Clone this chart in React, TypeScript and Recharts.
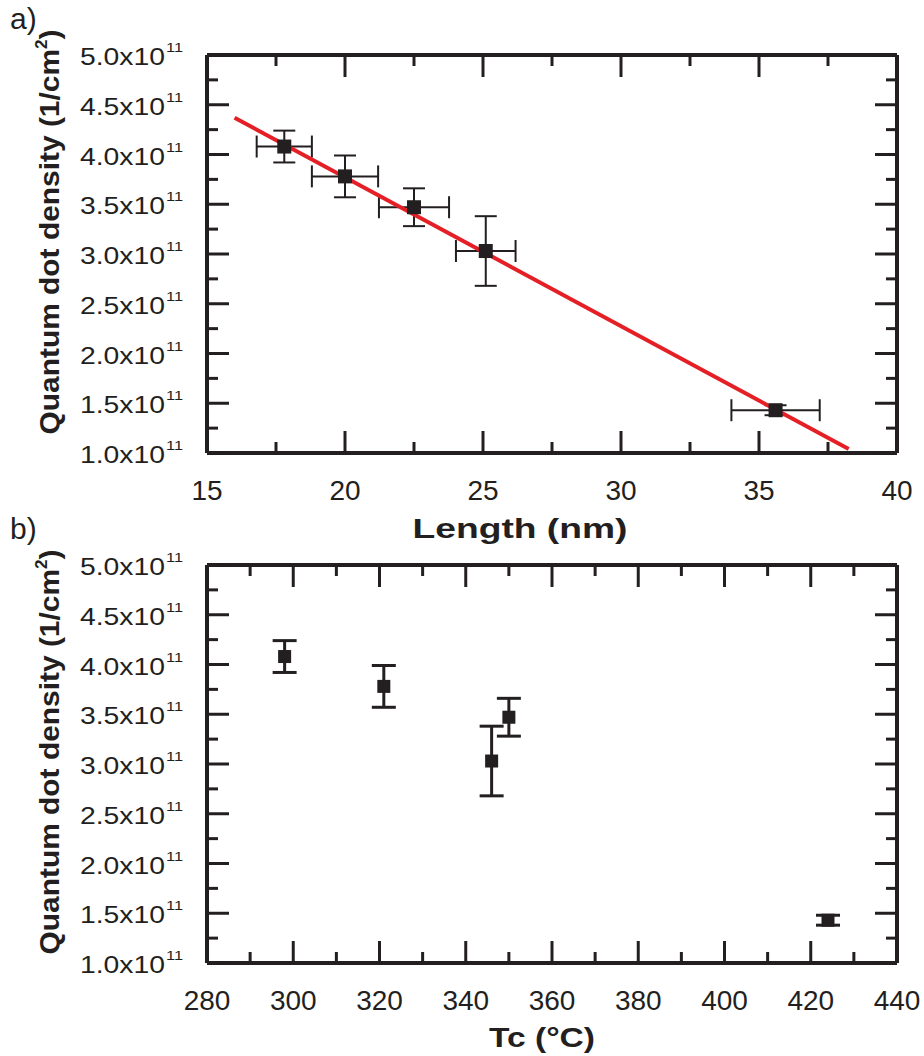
import React from 'react'
import {
  ScatterChart,
  Scatter,
  XAxis,
  YAxis,
  ErrorBar,
  ReferenceLine,
} from 'recharts'

// measured values (density in units of 1e11 cm^-2)
const lengthNm = [17.8, 20.0, 22.5, 25.1, 35.6]
const lengthErr = [1.0, 1.2, 1.27, 1.08, 1.6]
const density = [4.08, 3.78, 3.47, 3.03, 1.43]
const densityErr = [0.16, 0.21, 0.19, 0.35, 0.05]
const tcCelsius = [298, 321, 350, 346, 424]

// linear fit endpoints (panel a)
const fitLength = [16.0, 38.25]
const fitDensity = [4.37, 1.04]

const lengthTicks = [15, 17.5, 20, 22.5, 25, 27.5, 30, 32.5, 35, 37.5, 40]
const tcTicks = [280, 290, 300, 310, 320, 330, 340, 350, 360, 370, 380, 390, 400, 410, 420, 430, 440]
const densityTicks = [1, 1.25, 1.5, 1.75, 2, 2.25, 2.5, 2.75, 3, 3.25, 3.5, 3.75, 4, 4.25, 4.5, 4.75, 5]

const INK = '#231f20'
const RED = '#e41f26'
const FONT = '"Liberation Sans", Arial, Helvetica, sans-serif'
const PLOT_W = 690
const PLOT_H = 398

const lengthData = lengthNm.map((x, i) => ({ x, y: density[i], ex: lengthErr[i], ey: densityErr[i] }))
const fitData = fitLength.map((x, i) => ({ x, y: fitDensity[i] }))
const tcData = tcCelsius.map((x, i) => ({ x, y: density[i], ey: densityErr[i] }))

const isMajor = (v: number, step: number) => Math.abs(v / step - Math.round(v / step)) < 1e-6

function XTick(props: any) {
  const { x, y, payload, step } = props
  const major = isMajor(payload.value, step)
  const len = major ? 22 : 11
  return (
    <g>
      <line x1={x} y1={y} x2={x} y2={y - len} stroke={INK} strokeWidth={3} />
      <line x1={x} y1={y - PLOT_H} x2={x} y2={y - PLOT_H + len} stroke={INK} strokeWidth={3} />
      {major && (
        <text x={x} y={y + 47} textAnchor="middle" fontSize={28} fontFamily={FONT} fill={INK}>
          {payload.value}
        </text>
      )}
    </g>
  )
}

function YTick(props: any) {
  const { x, y, payload } = props
  const major = isMajor(payload.value, 0.5)
  const len = major ? 22 : 11
  return (
    <g>
      <line x1={x} y1={y} x2={x + len} y2={y} stroke={INK} strokeWidth={3} />
      <line x1={x + PLOT_W} y1={y} x2={x + PLOT_W - len} y2={y} stroke={INK} strokeWidth={3} />
      {major && (
        <g fontFamily={FONT} fill={INK}>
          <text x={x - 42} y={y + 10} textAnchor="end" fontSize={23} textLength={85} lengthAdjust="spacingAndGlyphs">
            {payload.value.toFixed(1) + 'x10'}
          </text>
          <text x={x - 41} y={y - 3} fontSize={13} textLength={17} lengthAdjust="spacingAndGlyphs">
            11
          </text>
        </g>
      )}
    </g>
  )
}

const squareShape = (size: number) => (p: any) => (
  <rect x={p.cx - size / 2} y={p.cy - size / 2} width={size} height={size} fill={INK} />
)

function YTitle({ cy }: { cy: number }) {
  return (
    <text
      transform={`translate(59, ${cy}) rotate(-90)`}
      textAnchor="middle"
      fontFamily={FONT}
      fontWeight="bold"
      fontSize={28}
      fill={INK}
      textLength={405}
      lengthAdjust="spacingAndGlyphs"
    >
      Quantum dot density (1/cm<tspan fontSize={16} dy={-12}>2</tspan>
      <tspan dy={12}>)</tspan>
    </text>
  )
}

function XTitle({ cx, y, width, children }: { cx: number; y: number; width: number; children: React.ReactNode }) {
  return (
    <text
      x={cx}
      y={y}
      textAnchor="middle"
      fontFamily={FONT}
      fontWeight="bold"
      fontSize={28}
      fill={INK}
      textLength={width}
      lengthAdjust="spacingAndGlyphs"
    >
      {children}
    </text>
  )
}

export default function App() {
  return (
    <div style={{ position: 'absolute', left: 0, top: 0, width: 924, height: 1056, background: '#fff', overflow: 'hidden' }}>
      <div style={{ position: 'absolute', left: 0, top: 0 }}>
        <ScatterChart width={924} height={530} margin={{ top: 55, right: 27, bottom: 0, left: 0 }}>
          <XAxis
            type="number"
            dataKey="x"
            domain={[15, 40]}
            ticks={lengthTicks}
            interval={0}
            allowDataOverflow
            height={77}
            tickSize={0}
            tickMargin={0}
            tickLine={false}
            axisLine={{ stroke: INK, strokeWidth: 4 }}
            tick={(p: any) => <XTick {...p} step={5} />}
          />
          <YAxis
            type="number"
            dataKey="y"
            domain={[1, 5]}
            ticks={densityTicks}
            interval={0}
            allowDataOverflow
            width={207}
            tickSize={0}
            tickMargin={0}
            tickLine={false}
            axisLine={{ stroke: INK, strokeWidth: 4 }}
            tick={(p: any) => <YTick {...p} />}
          />
          <ReferenceLine y={5} stroke={INK} strokeWidth={4} />
          <ReferenceLine x={40} stroke={INK} strokeWidth={4} />
          <Scatter
            data={fitData}
            line={{ stroke: RED, strokeWidth: 4 }}
            shape={() => <g />}
            isAnimationActive={false}
          />
          <Scatter data={lengthData} shape={squareShape(14)} isAnimationActive={false}>
            <ErrorBar dataKey="ex" direction="x" width={11} stroke={INK} strokeWidth={2} isAnimationActive={false} />
            <ErrorBar dataKey="ey" direction="y" width={11} stroke={INK} strokeWidth={2} isAnimationActive={false} />
          </Scatter>
        </ScatterChart>
      </div>

      <div style={{ position: 'absolute', left: 0, top: 510 }}>
        <ScatterChart width={924} height={546} margin={{ top: 55, right: 27, bottom: 0, left: 0 }}>
          <XAxis
            type="number"
            dataKey="x"
            domain={[280, 440]}
            ticks={tcTicks}
            interval={0}
            allowDataOverflow
            height={93}
            tickSize={0}
            tickMargin={0}
            tickLine={false}
            axisLine={{ stroke: INK, strokeWidth: 4 }}
            tick={(p: any) => <XTick {...p} step={20} />}
          />
          <YAxis
            type="number"
            dataKey="y"
            domain={[1, 5]}
            ticks={densityTicks}
            interval={0}
            allowDataOverflow
            width={207}
            tickSize={0}
            tickMargin={0}
            tickLine={false}
            axisLine={{ stroke: INK, strokeWidth: 4 }}
            tick={(p: any) => <YTick {...p} />}
          />
          <ReferenceLine y={5} stroke={INK} strokeWidth={4} />
          <ReferenceLine x={440} stroke={INK} strokeWidth={4} />
          <Scatter data={tcData} shape={squareShape(13)} isAnimationActive={false}>
            <ErrorBar dataKey="ey" direction="y" width={12} stroke={INK} strokeWidth={3} isAnimationActive={false} />
          </Scatter>
        </ScatterChart>
      </div>

      <svg width={924} height={1056} style={{ position: 'absolute', left: 0, top: 0, pointerEvents: 'none' }}>
        <text x={10} y={29} fontFamily={FONT} fontSize={30} fill={INK}>a)</text>
        <text x={10} y={539} fontFamily={FONT} fontSize={30} fill={INK}>b)</text>
        <YTitle cy={232} />
        <YTitle cy={752} />
        <XTitle cx={520} y={538} width={215}>Length (nm)</XTitle>
        <XTitle cx={542} y={1047} width={106}>Tc (°C)</XTitle>
      </svg>
    </div>
  )
}
